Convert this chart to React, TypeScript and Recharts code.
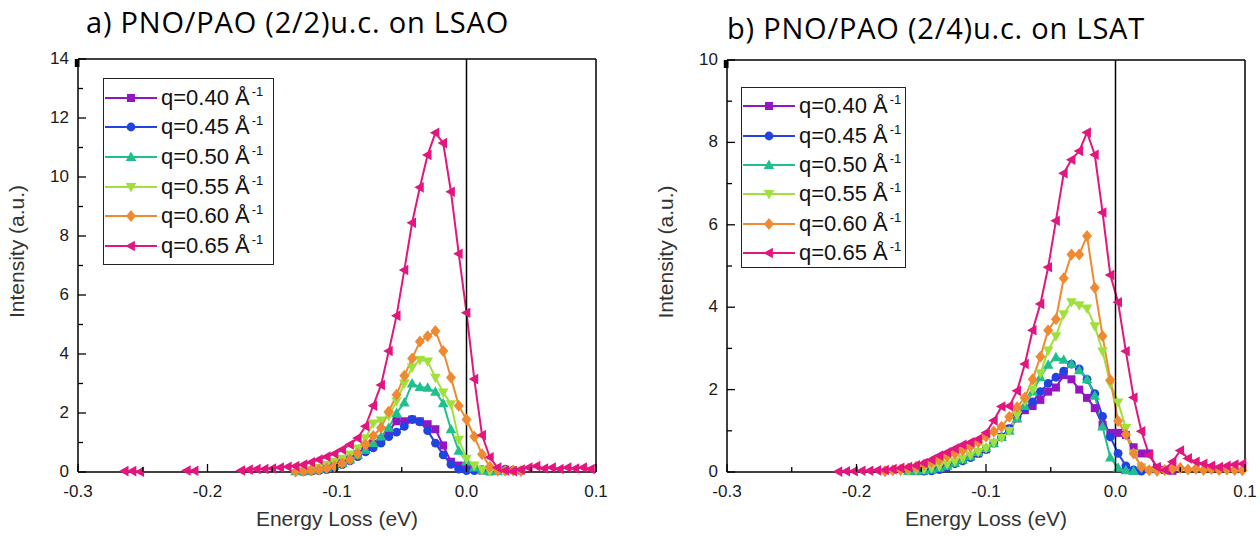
import React from 'react';
import { LineChart, Line, XAxis, YAxis, ReferenceLine, Legend } from 'recharts';

const n = null;

// Energy loss grids (eV)
const energyA = [-0.27, -0.264, -0.258, -0.252, -0.246, -0.24, -0.234, -0.228, -0.222, -0.216, -0.21, -0.204, -0.198, -0.192, -0.186, -0.18, -0.174, -0.168, -0.162, -0.156, -0.15, -0.144, -0.138, -0.132, -0.126, -0.12, -0.114, -0.108, -0.102, -0.096, -0.09, -0.084, -0.078, -0.072, -0.066, -0.06, -0.054, -0.048, -0.042, -0.036, -0.03, -0.024, -0.018, -0.012, -0.006, 0, 0.006, 0.012, 0.018, 0.024, 0.03, 0.036, 0.042, 0.048, 0.054, 0.06, 0.066, 0.072, 0.078, 0.084, 0.09, 0.096];
const energyB = [-0.268, -0.262, -0.256, -0.25, -0.244, -0.238, -0.232, -0.226, -0.22, -0.214, -0.208, -0.202, -0.196, -0.19, -0.184, -0.178, -0.172, -0.166, -0.16, -0.154, -0.148, -0.142, -0.136, -0.13, -0.124, -0.118, -0.112, -0.106, -0.1, -0.094, -0.088, -0.082, -0.076, -0.07, -0.064, -0.058, -0.052, -0.046, -0.04, -0.034, -0.028, -0.022, -0.016, -0.01, -0.004, 0.002, 0.008, 0.014, 0.02, 0.026, 0.032, 0.038, 0.044, 0.05, 0.056, 0.062, 0.068, 0.074, 0.08, 0.086, 0.092, 0.098];

// Panel a) PNO/PAO (2/2)u.c. on LSAO
const a40 = [n, n, n, n, n, n, n, n, n, n,  n, n, n, n, n, n, n, n, n, n,
  n, n, n, n, 0.02, 0.04, 0.08, 0.14, 0.22, 0.32,
  0.45, 0.6, 0.78, 0.95, 1.1, 1.4, 1.72, 1.72, 1.78, 1.72,
  1.62, 1.45, 0.9, 0.35, 0.22, 0.15, 0.1, 0.05, 0.02, n];
const a45 = [n, n, n, n, n, n, n, n, n, n,  n, n, n, n, n, n, n, n, n, n,
  n, n, n, n, 0.02, 0.03, 0.05, 0.08, 0.15, 0.25,
  0.38, 0.52, 0.68, 0.82, 0.98, 1.2, 1.35, 1.55, 1.78, 1.7,
  1.4, 0.98, 0.58, 0.26, 0.1, 0.05, 0.05, 0.08, 0.06, 0.05,
  0.1, 0.06, 0.04];
const a50 = [n, n, n, n, n, n, n, n, n, n,  n, n, n, n, n, n, n, n, n, n,
  n, n, n, 0.02, 0.03, 0.06, 0.1, 0.15, 0.22, 0.3,
  0.42, 0.58, 0.75, 0.98, 1.2, 1.5, 2.0, 2.35, 3.0, 2.88,
  2.85, 2.72, 2.33, 1.45, 0.72, 0.35, 0.15, 0.06, 0.03, 0.02];
const a55 = [n, n, n, n, n, n, n, n, n, n,  n, n, n, n, n, n, n, n, n, n,
  n, n, n, n, 0.04, 0.08, 0.15, 0.25, 0.35, 0.45,
  0.6, 0.8, 1.15, 1.65, 1.75, 1.9, 2.4, 3.0, 3.55, 3.8,
  3.75, 3.2, 2.7, 2.3, 1.1, 0.45, 0.22, 0.08, 0.04, 0.02];
const a60 = [n, n, n, n, n, n, n, n, n, n,  n, n, n, n, n, n, n, n, n, n,
  n, n, n, 0.02, 0.03, 0.05, 0.08, 0.13, 0.2, 0.3,
  0.42, 0.62, 0.92, 1.22, 1.5, 2.05, 2.62, 3.26, 3.85, 4.42,
  4.6, 4.78, 4.1, 3.2, 2.25, 1.78, 1.2, 0.6, 0.18, 0.06,
  0.04, 0.05, 0.03];
const a65 = [n, 0.03, 0.03, 0.01, n, n, n, n, n, 0.05,
  0.04, n, n, n, n, n, 0.05, 0.08, 0.1, 0.1,
  0.12, 0.15, 0.18, 0.2, 0.25, 0.33, 0.42, 0.52, 0.62, 0.76,
  0.93, 1.15, 1.55, 2.25, 2.95, 4.1, 5.3, 6.85, 8.45, 9.65,
  10.75, 11.5, 11.15, 9.5, 7.4, 5.4, 3.15, 1.25, 0.5, 0.15,
  0.05, 0.03, 0.08, 0.15, 0.2, 0.12, 0.15, 0.1, 0.15, 0.12,
  0.15, 0.1];

// Panel b) PNO/PAO (2/4)u.c. on LSAT
const b40 = [n, n, n, n, n, n, n, n, n, n,  n, n, n, n, n, n, n, n, n, 0.02,
  0.03, 0.06, 0.1, 0.15, 0.22, 0.3, 0.37, 0.45, 0.55, 0.7,
  0.85, 1.05, 1.3, 1.5, 1.6, 1.75, 1.95, 2.05, 2.35, 2.25,
  2.0, 1.8, 1.55, 1.15, 0.95, 0.95, 0.9, 0.6, 0.45, 0.45,
  0.1, 0.05, 0.03];
const b45 = [n, n, n, n, n, n, n, n, n, n,  n, n, n, n, n, n, n, n, n, n,
  0.02, 0.03, 0.06, 0.12, 0.2, 0.27, 0.35, 0.45, 0.55, 0.7,
  0.85, 1.05, 1.35, 1.55, 1.7, 1.95, 2.15, 2.3, 2.45, 2.62,
  2.5, 2.25, 1.9, 1.35, 0.85, 0.45, 0.15, 0.05, 0.02];
const b50 = [n, n, n, n, n, n, n, n, n, n,  n, n, n, n, n, n, n, n, 0.02, 0.03,
  0.04, 0.06, 0.1, 0.15, 0.22, 0.3, 0.38, 0.48, 0.58, 0.7,
  0.85, 1.0, 1.3, 1.6, 1.95, 2.3, 2.6, 2.78, 2.72, 2.62,
  2.47, 2.25, 1.85, 1.1, 0.35, 0.1, 0.04, 0.02];
const b55 = [n, n, n, n, n, n, n, n, n, n,  n, n, n, n, n, n, n, 0.02, 0.03, 0.05,
  0.07, 0.1, 0.14, 0.19, 0.26, 0.33, 0.41, 0.49, 0.58, 0.71,
  0.83, 1.0, 1.38, 1.72, 2.0, 2.4, 2.95, 3.3, 3.83, 4.12,
  4.05, 3.97, 3.54, 2.93, 2.14, 1.69, 1.07, 0.45, 0.12, 0.04,
  0.02];
const b60 = [n, n, n, n, n, n, n, n, n, n,  n, n, n, n, n, 0.02, 0.04, 0.06, 0.09, 0.13,
  0.18, 0.24, 0.3, 0.38, 0.45, 0.53, 0.62, 0.72, 0.86, 0.98,
  1.1, 1.34, 1.57, 1.81, 2.25, 2.8, 3.44, 3.71, 4.7, 5.28,
  5.28, 5.73, 4.47, 3.3, 2.23, 1.24, 0.91, 0.45, 0.12, 0.04,
  0.03, 0.05, 0.08, 0.1, 0.06, 0.08, 0.05, 0.07, 0.05, 0.06,
  0.05, 0.04];
const b65 = [n, n, n, n, n, n, n, n, n, 0.01,
  0.02, 0.02, 0.03, 0.03, 0.04, 0.05, 0.07, 0.1, 0.12, 0.16,
  0.22, 0.3, 0.4, 0.48, 0.57, 0.66, 0.72, 0.8, 0.95, 1.25,
  1.59, 1.6, 1.97, 2.62, 3.44, 4.08, 4.97, 6.1, 7.25, 7.58,
  7.79, 8.24, 7.7, 6.3, 4.78, 4.12, 2.93, 1.81, 0.99, 0.41,
  0.12, 0.05, 0.25, 0.52, 0.33, 0.25, 0.2, 0.15, 0.12, 0.15,
  0.18, 0.2];

const seriesKeys = ['q40', 'q45', 'q50', 'q55', 'q60', 'q65'];
const seriesLabels = ['q=0.40', 'q=0.45', 'q=0.50', 'q=0.55', 'q=0.60', 'q=0.65'];
const seriesColors = ['#9416C2', '#2143E2', '#1FC08E', '#A0E03C', '#EF8A33', '#E2167E'];
const seriesShapes = ['square', 'circle', 'up', 'down', 'diamond', 'left'];

const xTicks = [-0.3, -0.25, -0.2, -0.15, -0.1, -0.05, 0, 0.05, 0.1];
const yTicksA = [0, 1, 2, 3, 4, 5, 6, 7, 8, 9, 10, 11, 12, 13, 14];
const yTicksB = [0, 1, 2, 3, 4, 5, 6, 7, 8, 9, 10];

const FONT = '"Liberation Sans", Arial, sans-serif';
const TITLE_FONT = '"Open Sans", "Noto Sans", sans-serif';

function Marker({ shape, cx, cy, color }: any) {
  switch (shape) {
    case 'square':
      return <rect x={cx - 4} y={cy - 4} width={8} height={8} fill={color} />;
    case 'circle':
      return <circle cx={cx} cy={cy} r={4.4} fill={color} />;
    case 'up':
      return <polygon points={`${cx},${cy - 5.6} ${cx + 5.3},${cy + 3.9} ${cx - 5.3},${cy + 3.9}`} fill={color} />;
    case 'down':
      return <polygon points={`${cx},${cy + 5.6} ${cx + 5.3},${cy - 3.9} ${cx - 5.3},${cy - 3.9}`} fill={color} />;
    case 'diamond':
      return <polygon points={`${cx},${cy - 6} ${cx + 5},${cy} ${cx},${cy + 6} ${cx - 5},${cy}`} fill={color} />;
    default:
      return <polygon points={`${cx - 5.6},${cy} ${cx + 3.9},${cy - 5.3} ${cx + 3.9},${cy + 5.3}`} fill={color} />;
  }
}

const makeDot = (shape: string, color: string) => (p: any) => {
  const { cx, cy, index, value } = p;
  if (cx == null || cy == null || value == null || Number.isNaN(cy)) return <g key={`e${index}`} />;
  return <Marker key={`d${index}`} shape={shape} cx={cx} cy={cy} color={color} />;
};

const isMajorX = (v: number) => Math.abs(v * 10 - Math.round(v * 10)) < 1e-6;
const fmtX = (v: number) => (Math.abs(v) < 1e-9 ? '0.0' : v.toFixed(1));

const XTickBottom = (p: any) => {
  const { x, y, payload } = p;
  const v = payload.value;
  const major = isMajorX(v);
  return (
    <g>
      <line x1={x} x2={x} y1={y} y2={y - (major ? 8 : 5)} stroke="#000" strokeWidth={1.3} />
      {major && (
        <text x={x} y={y + 25} textAnchor="middle" fontFamily={FONT} fontSize={17} fill="#1a1a1a">
          {fmtX(v)}
        </text>
      )}
    </g>
  );
};
const XTickTop = (p: any) => {
  const { x, y, payload } = p;
  const major = isMajorX(payload.value);
  return <line x1={x} x2={x} y1={y} y2={y + (major ? 8 : 5)} stroke="#000" strokeWidth={1.3} />;
};
const YTickLeft = (p: any) => {
  const { x, y, payload } = p;
  const v = payload.value;
  const major = v % 2 === 0;
  return (
    <g>
      <line x1={x} x2={x + (major ? 8 : 5)} y1={y} y2={y} stroke="#000" strokeWidth={1.3} />
      {major && (
        <text x={x - 9} y={y + 5} textAnchor="end" fontFamily={FONT} fontSize={17} fill="#1a1a1a">
          {v}
        </text>
      )}
    </g>
  );
};
const YTickRight = (p: any) => {
  const { x, y, payload } = p;
  const major = payload.value % 2 === 0;
  return <line x1={x} x2={x - (major ? 8 : 5)} y1={y} y2={y} stroke="#000" strokeWidth={1.3} />;
};

function LegendBox({ w, h, padTop, rowH }: any) {
  return (
    <div
      style={{
        boxSizing: 'border-box',
        width: w,
        height: h,
        border: '1.3px solid #222',
        background: '#fff',
        paddingTop: padTop,
        paddingLeft: 1,
      }}
    >
      {seriesLabels.map((lab, i) => (
        <div key={lab} style={{ display: 'flex', alignItems: 'center', height: rowH }}>
          <svg width={52} height={16} style={{ display: 'block', flex: 'none', overflow: 'visible' }}>
            <line x1={0} x2={52} y1={8} y2={8} stroke={seriesColors[i]} strokeWidth={2.2} />
            <Marker shape={seriesShapes[i]} cx={26} cy={8} color={seriesColors[i]} />
          </svg>
          <span
            style={{
              marginLeft: 4,
              fontFamily: FONT,
              fontSize: 22,
              color: '#111',
              whiteSpace: 'nowrap',
              lineHeight: 1,
            }}
          >
            {lab} Å
            <span style={{ fontSize: 13, position: 'relative', top: -9, marginLeft: 2 }}>-1</span>
          </span>
        </div>
      ))}
    </div>
  );
}

function Panel({ left, title, titleLeft, titleTop, energy, values, yMax, yTicks, margin, legend }: any) {
  const data = energy.map((x: number, i: number) => {
    const row: any = { x };
    seriesKeys.forEach((k, s) => {
      const v = values[s][i];
      row[k] = v === undefined ? null : v;
    });
    return row;
  });
  // axes take 1px each; margins are reduced so the plot frame lands on the target pixels
  const m = { top: margin.top - 1, right: margin.right - 1, bottom: margin.bottom - 1, left: margin.left - 1 };
  const plotBottom = 536 - margin.bottom;
  const plotMid = margin.top + (536 - margin.top - margin.bottom) / 2;
  return (
    <div style={{ position: 'absolute', left, top: 0, width: 630, height: 536 }}>
      <div
        style={{
          position: 'absolute',
          left: titleLeft,
          top: titleTop,
          fontFamily: TITLE_FONT,
          fontSize: 29,
          letterSpacing: 0.8,
          lineHeight: 1,
          color: '#000',
          whiteSpace: 'nowrap',
        }}
      >
        {title}
      </div>
      <div style={{ position: 'absolute', left: 0, top: 0 }}>
        <LineChart width={630} height={536} data={data} margin={m}>
          <XAxis
            dataKey="x"
            type="number"
            domain={[-0.3, 0.1]}
            ticks={xTicks}
            interval={0}
            height={1}
            tickSize={0}
            tickMargin={0}
            tickLine={false}
            axisLine={{ stroke: '#000', strokeWidth: 1.5 }}
            tick={XTickBottom}
            label={{
              content: (lp: any) => {
                const vb = lp.viewBox;
                return (
                  <text x={vb.x + vb.width / 2} y={plotBottom + 54} textAnchor="middle" fontFamily={FONT} fontSize={21} fill="#333">
                    Energy Loss (eV)
                  </text>
                );
              },
            }}
          />
          <XAxis
            xAxisId="top"
            orientation="top"
            type="number"
            domain={[-0.3, 0.1]}
            ticks={xTicks}
            interval={0}
            height={1}
            tickSize={0}
            tickMargin={0}
            tickLine={false}
            axisLine={{ stroke: '#000', strokeWidth: 1.5 }}
            tick={XTickTop}
          />
          <YAxis
            type="number"
            domain={[0, yMax]}
            ticks={yTicks}
            interval={0}
            width={1}
            tickSize={0}
            tickMargin={0}
            tickLine={false}
            axisLine={{ stroke: '#000', strokeWidth: 1.5 }}
            tick={YTickLeft}
            label={{
              content: () => {
                const tx = margin.left - 54;
                const ty = plotMid - 14;
                return (
                  <text x={tx} y={ty} transform={`rotate(-90 ${tx} ${ty})`} textAnchor="middle" fontFamily={FONT} fontSize={21} fill="#333">
                    Intensity (a.u.)
                  </text>
                );
              },
            }}
          />
          <YAxis
            yAxisId="right"
            orientation="right"
            type="number"
            domain={[0, yMax]}
            ticks={yTicks}
            interval={0}
            width={1}
            tickSize={0}
            tickMargin={0}
            tickLine={false}
            axisLine={{ stroke: '#000', strokeWidth: 1.5 }}
            tick={YTickRight}
          />
          {seriesKeys.map((k, i) => (
            <Line
              key={k}
              dataKey={k}
              name={`${seriesLabels[i]} Å-1`}
              type="linear"
              stroke={seriesColors[i]}
              strokeWidth={2}
              connectNulls={false}
              isAnimationActive={false}
              activeDot={false}
              dot={makeDot(seriesShapes[i], seriesColors[i])}
            />
          ))}
          <ReferenceLine x={0} stroke="#000" strokeWidth={1.5} />
          <Legend
            layout="vertical"
            align="center"
            verticalAlign="middle"
            width={legend.w}
            height={legend.h}
            wrapperStyle={{ left: legend.x, top: legend.y, width: legend.w, height: legend.h }}
            content={() => <LegendBox w={legend.w} h={legend.h} padTop={legend.padTop} rowH={legend.rowH} />}
          />
        </LineChart>
      </div>
    </div>
  );
}

export default function App() {
  return (
    <div style={{ position: 'absolute', left: 0, top: 0, width: 1260, height: 536, background: '#fff', overflow: 'hidden' }}>
      <Panel
        left={0}
        title="a) PNO/PAO (2/2)u.c. on LSAO"
        titleLeft={86}
        titleTop={7}
        energy={energyA}
        values={[a40, a45, a50, a55, a60, a65]}
        yMax={14}
        yTicks={yTicksA}
        margin={{ top: 59, right: 34, bottom: 64, left: 78 }}
        legend={{ x: 103, y: 78, w: 171, h: 187, padTop: 4, rowH: 29.6 }}
      />
      <Panel
        left={630}
        title="b) PNO/PAO (2/4)u.c. on LSAT"
        titleLeft={97}
        titleTop={13}
        energy={energyB}
        values={[b40, b45, b50, b55, b60, b65]}
        yMax={10}
        yTicks={yTicksB}
        margin={{ top: 60, right: 15, bottom: 64, left: 97 }}
        legend={{ x: 111, y: 87, w: 165, h: 181, padTop: 3.5, rowH: 29.4 }}
      />
    </div>
  );
}
